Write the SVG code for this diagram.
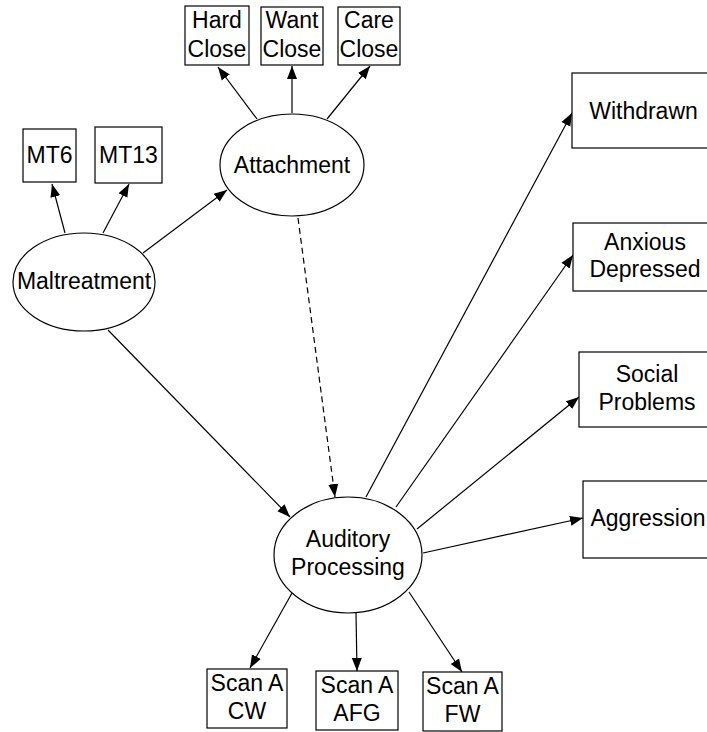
<svg xmlns="http://www.w3.org/2000/svg" width="707" height="732" viewBox="0 0 707 732">
<style>
text{font-family:"Liberation Sans",Arial,Helvetica,sans-serif;font-size:23px;fill:#000;text-anchor:middle}
.box{fill:#fff;stroke:#000;stroke-width:1.2}
.ell{fill:#fff;stroke:#000;stroke-width:1.2}
.edge{stroke:#000;stroke-width:1.2;fill:none;marker-end:url(#arr)}
.dash{stroke-dasharray:6,4}
</style>
<defs>
<marker id="arr" markerUnits="userSpaceOnUse" markerWidth="14" markerHeight="11" refX="13" refY="5.5" orient="auto">
<path d="M0,0.5 L13,5.5 L0,10.5 z" fill="#000"/>
</marker>
</defs>
<rect width="707" height="732" fill="#fff"/>
<g id="connectors">
<line class="edge" x1="65" y1="233" x2="52" y2="184"/>
<line class="edge" x1="103" y1="233" x2="129" y2="184"/>
<line class="edge" x1="143" y1="253" x2="227" y2="190"/>
<line class="edge" x1="257" y1="119" x2="218" y2="67"/>
<line class="edge" x1="292" y1="113" x2="292" y2="66"/>
<line class="edge" x1="327" y1="119" x2="370" y2="66"/>
<line class="edge" x1="108" y1="330" x2="290" y2="517"/>
<line class="edge dash" x1="298" y1="218" x2="335" y2="497"/>
<line class="edge" x1="366" y1="497" x2="572" y2="113"/>
<line class="edge" x1="396" y1="507" x2="573" y2="255"/>
<line class="edge" x1="417" y1="529" x2="579" y2="397"/>
<line class="edge" x1="423" y1="553" x2="583" y2="518"/>
<line class="edge" x1="292" y1="593" x2="250" y2="668"/>
<line class="edge" x1="356" y1="613" x2="357" y2="671"/>
<line class="edge" x1="409" y1="592" x2="462" y2="672"/>
</g>
<g id="hard-close"><rect class="box" x="185" y="6" width="64" height="59"/><text x="217" y="28">Hard</text><text x="217" y="57">Close</text></g>
<g id="want-close"><rect class="box" x="261" y="7" width="62" height="58"/><text x="292" y="28">Want</text><text x="292" y="57">Close</text></g>
<g id="care-close"><rect class="box" x="338" y="7" width="62" height="58"/><text x="369" y="28">Care</text><text x="369" y="57">Close</text></g>
<g id="mt6"><rect class="box" x="23" y="129" width="53" height="53"/><text x="49.5" y="163">MT6</text></g>
<g id="mt13"><rect class="box" x="95" y="127" width="67" height="56"/><text x="128.5" y="163">MT13</text></g>
<g id="attachment"><ellipse class="ell" cx="292" cy="165" rx="72" ry="51"/><text x="292" y="173">Attachment</text></g>
<g id="maltreatment"><ellipse class="ell" cx="84" cy="282" rx="71" ry="49"/><text x="84" y="289">Maltreatment</text></g>
<g id="withdrawn"><rect class="box" x="572" y="73" width="145" height="75"/><text x="643.5" y="119">Withdrawn</text></g>
<g id="anxious-depressed"><rect class="box" x="573" y="223" width="145" height="68"/><text x="645" y="250">Anxious</text><text x="645" y="277">Depressed</text></g>
<g id="social-problems"><rect class="box" x="579" y="352" width="140" height="75"/><text x="647" y="382">Social</text><text x="647" y="410">Problems</text></g>
<g id="aggression"><rect class="box" x="583" y="481" width="135" height="77"/><text x="648" y="526">Aggression</text></g>
<g id="auditory-processing"><ellipse class="ell" cx="348" cy="555" rx="74" ry="58"/><text x="348" y="547">Auditory</text><text x="348" y="575">Processing</text></g>
<g id="scan-cw"><rect class="box" x="207" y="669" width="80" height="59"/><text x="247" y="691">Scan A</text><text x="247" y="719">CW</text></g>
<g id="scan-afg"><rect class="box" x="316" y="671" width="82" height="59"/><text x="357" y="693">Scan A</text><text x="357" y="721">AFG</text></g>
<g id="scan-fw"><rect class="box" x="423" y="672" width="79" height="59"/><text x="462.5" y="694">Scan A</text><text x="462.5" y="722">FW</text></g>
</svg>
